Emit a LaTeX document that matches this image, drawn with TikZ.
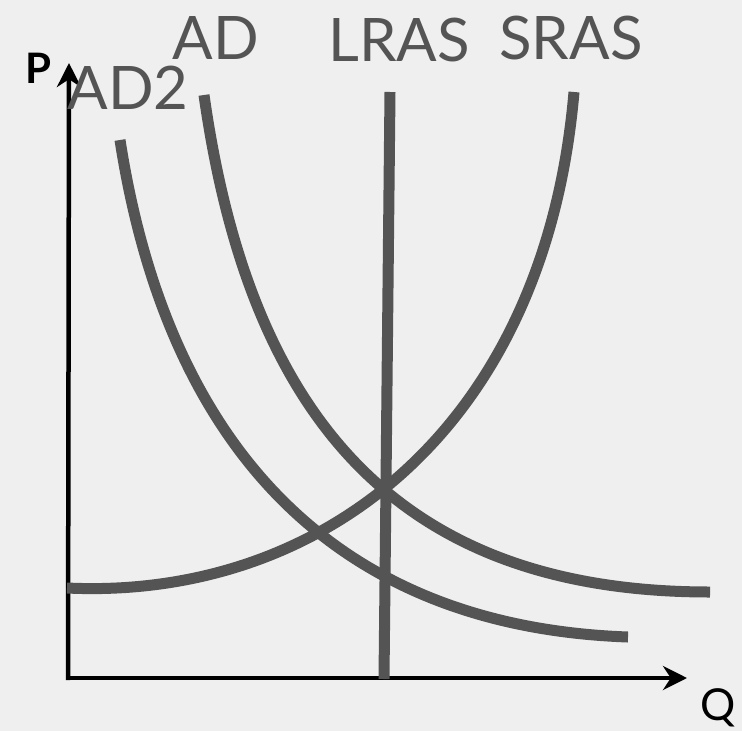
\documentclass[tikz,border=0pt]{standalone}
\usepackage{fontspec}
\setmainfont{Lato}
\usetikzlibrary{arrows.meta}
\definecolor{bgcol}{HTML}{EFEFF0}
\definecolor{curvecol}{HTML}{545454}
\begin{document}
\begin{tikzpicture}[x=1pt, y=-1pt]
        % --- Styles ---
        \tikzset{
            curve/.style={curvecol, line width=11pt},
            axis/.style={-{Stealth[length=24pt, width=24pt]}, black, line width=4.5pt},
            label/.style={text=curvecol, font=\fontsize{60}{60}\selectfont, inner sep=0pt},
            axlabel/.style={text=black, inner sep=0pt}
        }

        % --- Fond ---
        \fill[bgcol] (0,0) rectangle (742,731);
        \useasboundingbox (0,0) rectangle (742,731);

        % --- Axes ---
        \coordinate (origin) at (68,678);
        \coordinate (ytop) at (69,63);
        \coordinate (xend) at (687,678);
        \draw[axis] (68,680) -- (ytop);
        \draw[axis] (66,678) -- (xend);
        \node[axlabel, font=\bfseries\fontsize{42}{42}\selectfont] (P) at (38,68) {P};
        \node[axlabel, font=\fontsize{44}{44}\selectfont] (Q) at (718,708) {Q};

        % --- Courbes ---
        \draw[curve] (390,92) -- (384,679); % LRAS
        \draw[curve] (67,588) .. controls (320,600) and (545,430) .. (574,92); % SRAS
        \draw[curve] (204,95) .. controls (250,420) and (400,592) .. (710,592); % AD
        \draw[curve] (120,140) .. controls (165,430) and (320,626) .. (628,637); % AD2

        % --- Étiquettes ---
        \node[label] (lblAD) at (216,38) {AD};
        \node[label] (lblLRAS) at (399,40) {LRAS};
        \node[label] (lblSRAS) at (571,38) {SRAS};
        \node[label] (lblADtwo) at (128,88) {AD2};
    \end{tikzpicture}
\end{document}
